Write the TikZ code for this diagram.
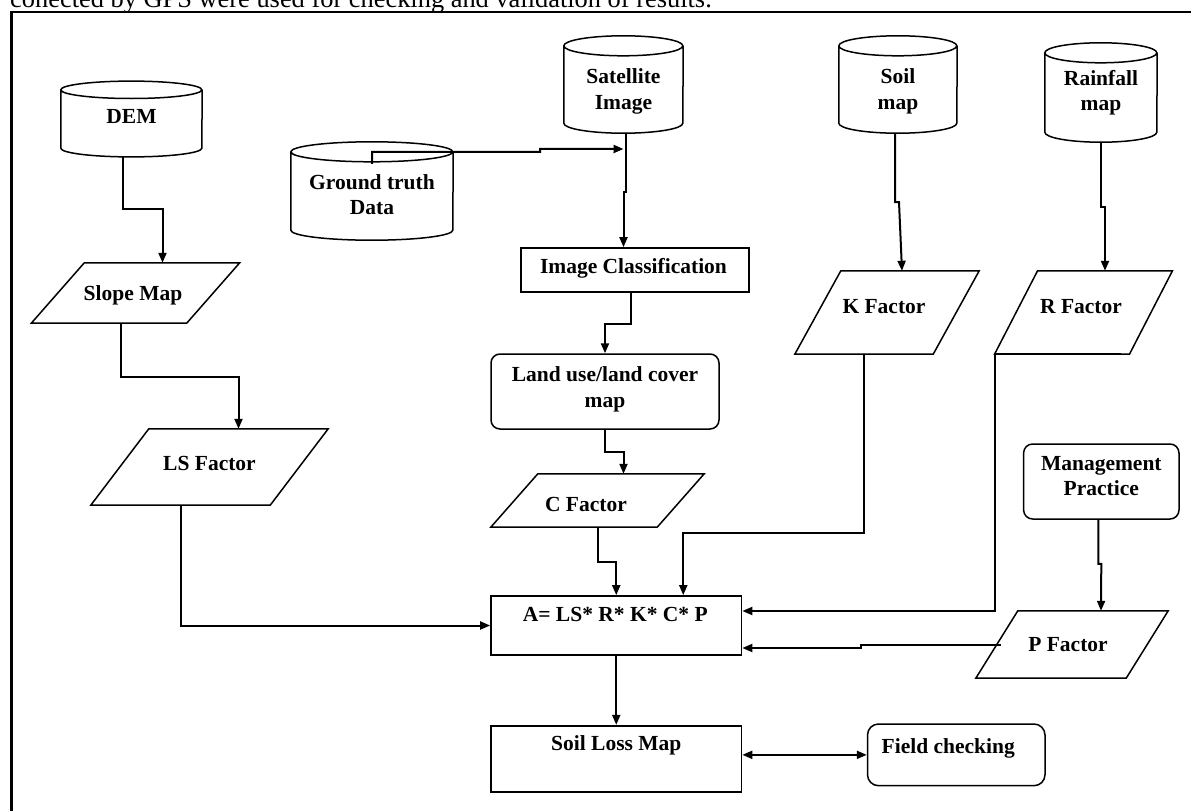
\documentclass[tikz,border=0pt]{standalone}
\usepackage{fontspec}
\setmainfont{Liberation Serif}
\usetikzlibrary{arrows.meta}
% text placed with offset: [dx]{raise}{lines}
\newcommand\tx[3][0pt]{\smash{\makebox[0pt]{\kern#1\kern#1\raisebox{#2}{\begin{tabular}{@{}c@{}}#3\end{tabular}}}}}
% cylinder outline around a node: {name}{rx}{ry}
\newcommand\cyl[3]{\draw[outline] (#1.north west) arc[start angle=180,end angle=540,x radius=#2pt,y radius=#3pt] -- (#1.south west) arc[start angle=180,end angle=360,x radius=#2pt,y radius=#3pt] -- (#1.north east);}
% parallelogram outline around a node: {name}{half slant}
\newcommand\para[2]{\draw[outline] ([xshift=#2pt]#1.north west) -- ([xshift=#2pt]#1.north east) -- ([xshift=-#2pt]#1.south east) -- ([xshift=-#2pt]#1.south west) -- cycle;}
\begin{document}
\begin{tikzpicture}[x=1pt,y=1pt,
  lbl/.style={font=\bfseries\fontsize{21.5}{25.5}\selectfont, inner sep=0pt},
  ghost/.style={lbl, draw=none},
  boxnode/.style={lbl, draw, line width=1.7pt},
  roundnode/.style={lbl, draw, line width=1.5pt, rounded corners=9pt},
  outline/.style={line width=1.5pt},
  conn/.style={line width=2pt, -{Triangle[length=10pt,width=8pt]}},
  twoway/.style={line width=2pt, {Triangle[length=10pt,width=8pt]}-{Triangle[length=10pt,width=8pt]}},
  frameline/.style={line width=2.6pt}
]
\useasboundingbox (0,0) rectangle (1191,-811);
\clip (0,0) rectangle (1191,-811);

% caption line cut at the top
\node[anchor=base west, inner sep=0pt, font=\normalfont\fontsize{26.4}{30}\selectfont] (caption) at (10,-8) {conected by GPS were used for checking and validation of results.};
\draw[frameline] (11.2,-811) -- (11.2,-12) -- (1191,-12);

% cylinders
\node[ghost, minimum width=141pt, minimum height=58pt] (dem) at (131.5,-119) {\tx{-4.25pt}{DEM}};
\cyl{dem}{70.5}{8.7}
\node[ghost, minimum width=162pt, minimum height=78pt] (gt) at (372,-191) {\tx{-11.25pt}{Ground truth\\Data}};
\cyl{gt}{81}{10}
\node[ghost, minimum width=119pt, minimum height=77pt] (sat) at (623.5,-84.5) {\tx{-12.25pt}{Satellite\\Image}};
\cyl{sat}{59.5}{10}
\node[ghost, minimum width=118pt, minimum height=77pt] (soil) at (898,-84.5) {\tx{-12.25pt}{Soil\\map}};
\cyl{soil}{59}{10}
\node[ghost, minimum width=112pt, minimum height=79pt] (rain) at (1101,-92.5) {\tx{-5.75pt}{Rainfall\\map}};
\cyl{rain}{56}{10}

% parallelograms
\node[ghost, minimum width=155pt, minimum height=60pt] (slope) at (135.5,-293) {\tx[-2.5pt]{-7.25pt}{Slope Map}};
\para{slope}{26.5}
\node[ghost, minimum width=179pt, minimum height=76pt] (ls) at (209.5,-467) {\tx{-3.25pt}{LS Factor}};
\para{ls}{29}
\node[ghost, minimum width=166pt, minimum height=53pt] (cf) at (597.5,-500.5) {\tx[-11.5pt]{-10.75pt}{C Factor}};
\para{cf}{23.5}
\node[ghost, minimum width=138pt, minimum height=83pt] (kf) at (887,-312.5) {\tx[-3pt]{-0.75pt}{K Factor}};
\para{kf}{23}
\node[ghost, minimum width=134.5pt, minimum height=83pt] (rf) at (1083.5,-312.5) {\tx[-2.5pt]{-0.75pt}{R Factor}};
\para{rf}{21.5}
\node[ghost, minimum width=150pt, minimum height=67pt] (pf) at (1072,-644.5) {\tx[-4pt]{-6.75pt}{P Factor}};
\para{pf}{21}

% boxes
\node[boxnode, minimum width=228pt, minimum height=44pt] (img) at (635,-270) {\tx[-1.5pt]{-3.25pt}{Image Classification}};
\node[roundnode, minimum width=228pt, minimum height=75pt] (land) at (605,-391.5) {\tx{-3.25pt}{Land use/land cover\\map}};
\node[roundnode, minimum width=155.4pt, minimum height=75pt] (mgmt) at (1101.3,-481.5) {\tx{-1.75pt}{Management\\Practice}};
\node[boxnode, minimum width=250.5pt, minimum height=59pt] (eq) at (616.25,-625.5) {\tx[-1pt]{4.25pt}{A= LS* R* K* C* P}};
\node[boxnode, minimum width=250.5pt, minimum height=66.6pt] (loss) at (616.25,-759) {\tx{8.75pt}{Soil Loss Map}};
\node[roundnode, minimum width=177.5pt, minimum height=61.7pt, rounded corners=11pt] (field) at (956.25,-754.85) {\tx[-8pt]{1.75pt}{Field checking}};

% connectors
\draw[conn] ([xshift=-8.5pt,yshift=-8.7pt]dem.south) -- ++(0,-52) -| ([xshift=27pt]slope.north);
\draw[conn] ([xshift=-15pt]slope.south) -- ++(0,-53.7) -| ([xshift=29pt]ls.north);
\draw[conn] ([xshift=-29pt]ls.south) |- (eq.west);
\draw[conn] ([yshift=-12pt]gt.north) -- (gt.north) -- ++(168,0) -- ++(0,3) -- (sat.center |- 0,-149);
\draw[conn] ([xshift=2.5pt,yshift=-10pt]sat.south) -- ++(0,-59) -- ++(-2.5,0) -- ([xshift=-11.5pt]img.north);
\draw[conn] ([xshift=-4pt]img.south) -- ++(0,-31) -| (land.north);
\draw[conn] (land.south) -- ++(0,-22.7) -| ([xshift=26pt]cf.north);
\draw[conn] (cf.south) -- ++(0,-34.7) -| (eq.north);
\draw[conn] ([xshift=-23pt]kf.south) -- ++(0,-178.7) -| ([xshift=67pt]eq.north);
\draw[conn] ([xshift=-3pt,yshift=-10pt]soil.south) -- ++(0,-69) -- ++(4,0) -- ([xshift=15pt]kf.north);
\draw[conn] ([yshift=-10pt]rain.south) -- ++(0,-65) -- ++(4,0) -- ([xshift=21.5pt]rf.north);
\draw[conn] ([xshift=-30pt]rf.south east) -- ([xshift=-21.5pt]rf.south west) |- ([yshift=14.5pt]eq.east);
\draw[conn] ([xshift=-3pt]mgmt.south) -- ++(0,-44) -- ++(3,0) -- ([xshift=29pt]pf.north);
\draw[conn] ([xshift=4pt]pf.west) -- ++(-140.3,0) -- ++(0,-3.5) -- ([yshift=-22.5pt]eq.east);
\draw[conn] (eq.south) -- (loss.north);
\draw[twoway] (field.west -| loss.east) -- (field.west);
\end{tikzpicture}
\end{document}
